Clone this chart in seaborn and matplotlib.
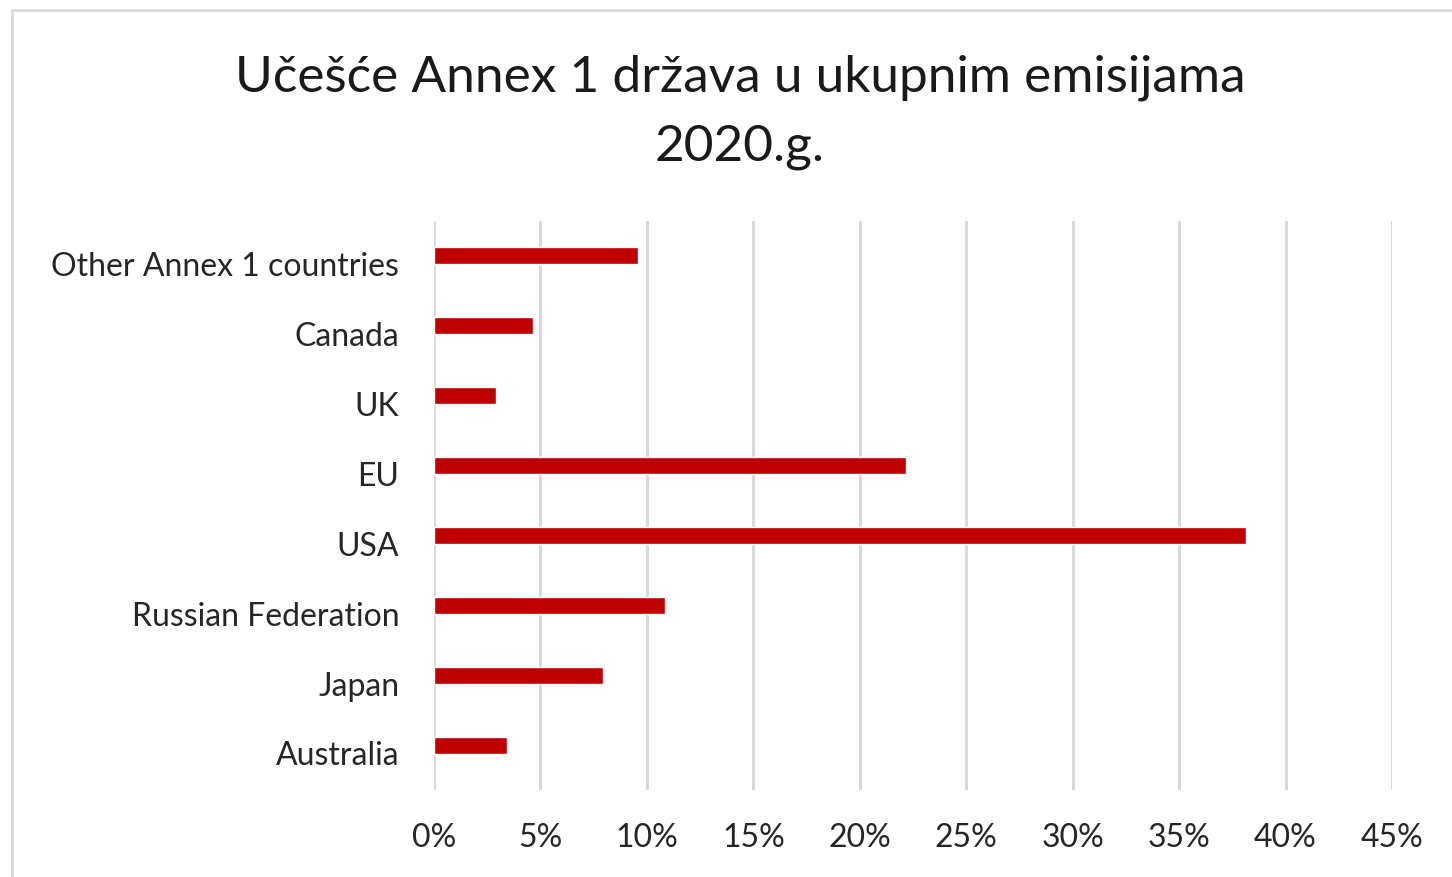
import pandas as pd
import matplotlib.pyplot as plt
import seaborn as sns
from matplotlib.patches import Rectangle
from matplotlib.ticker import PercentFormatter
from matplotlib.transforms import ScaledTranslation

sns.set_style("white")
plt.rcParams['font.family'] = ['Lato', 'DejaVu Sans']

# Data (share of emissions, %)
countries = ['Other Annex 1 countries', 'Canada', 'UK', 'EU', 'USA',
             'Russian Federation', 'Japan', 'Australia']
shares = [9.56, 4.64, 2.90, 22.16, 38.12, 10.85, 7.92, 3.45]
xticks = [0, 5, 10, 15, 20, 25, 30, 35, 40, 45]

df = pd.DataFrame({'Country': countries, 'Share': shares})

W, H = 1452, 877
fig = plt.figure(figsize=(W / 100, H / 100), dpi=100)

# outer chart frame
fig.patches.append(Rectangle((12 / W, -0.1), 1.2, (H - 10) / H + 0.1,
                             transform=fig.transFigure, fill=False,
                             edgecolor='#d9d9d9', linewidth=2))

ax = fig.add_axes([434 / W, (H - 790) / H, (1392 - 434) / W, (790 - 221) / H])
sns.barplot(data=df, x='Share', y='Country', orient='h', color='#C00000',
            width=0.245, saturation=1, ax=ax)

ax.set_xlim(0, 45)
ax.set_ylim(7.5 + 10 / 70, -0.5)
ax.set_xticks(xticks)
ax.xaxis.set_major_formatter(PercentFormatter(decimals=0))
ax.grid(axis='x', color='#d9d9d9', linewidth=2.2)
ax.set_axisbelow(True)
for s in ax.spines.values():
    s.set_visible(False)
ax.tick_params(axis='both', length=0, labelsize=23, colors='#262626')
ax.tick_params(axis='y', pad=25)
ax.tick_params(axis='x', pad=24)
ax.set_xlabel('')
ax.set_ylabel('')

# category labels sit a little below the bar centres
shift = ScaledTranslation(0, -6 / 72, fig.dpi_scale_trans)
for lbl in ax.get_yticklabels():
    lbl.set_transform(lbl.get_transform() + shift)

fig.text(740 / W, 1 - 78 / H, 'Učešće Annex 1 država u ukupnim emisijama',
         ha='center', va='center', fontsize=37, color='#1a1a1a')
fig.text(740 / W, 1 - 147 / H, '2020.g.',
         ha='center', va='center', fontsize=37, color='#1a1a1a')

plt.savefig('out.png', dpi=100)
